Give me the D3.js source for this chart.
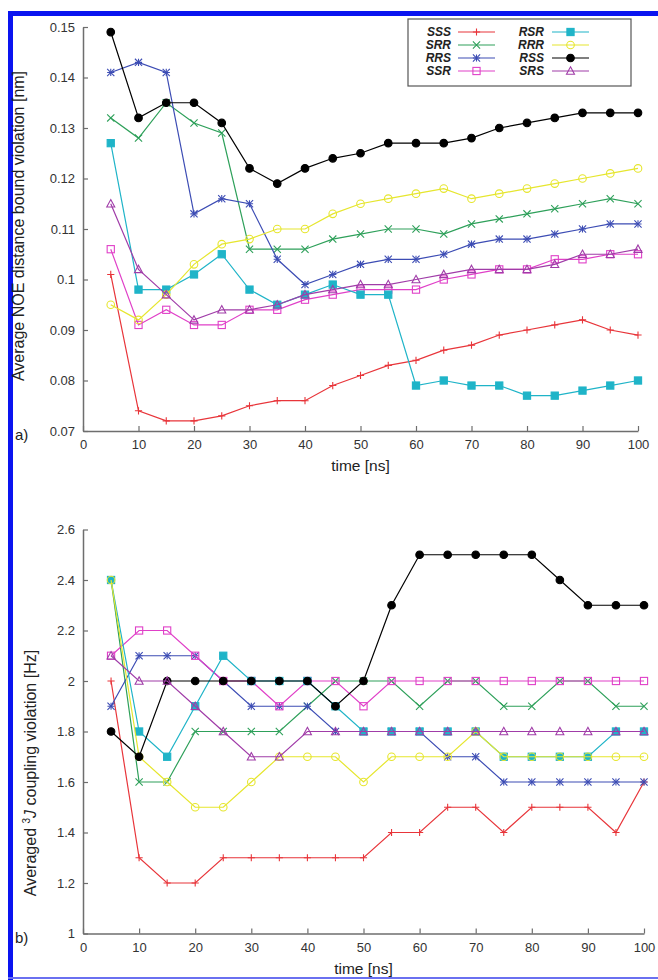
<!DOCTYPE html>
<html>
<head>
<meta charset="utf-8">
<script src="https://cdn.jsdelivr.net/npm/d3@7/dist/d3.min.js"></script>
<style>
  html, body { margin: 0; padding: 0; background: #fff; }
  svg { display: block; font-family: "Liberation Sans", Arial, sans-serif; }
</style>
</head>
<body>
<div id="chart"></div>
<script>
// time axis shared by both panels
const times = [5, 10, 15, 20, 25, 30, 35, 40, 45, 50, 55, 60, 65, 70, 75, 80, 85, 90, 95, 100];
const seriesNames = ["SSS", "SRR", "RRS", "SSR", "RSR", "RRR", "RSS", "SRS"];

// panel a) average NOE distance bound violation [nm]
const noeSSS = [0.101, 0.074, 0.072, 0.072, 0.073, 0.075, 0.076, 0.076, 0.079, 0.081, 0.083, 0.084, 0.086, 0.087, 0.089, 0.090, 0.091, 0.092, 0.090, 0.089];
const noeSRR = [0.132, 0.128, 0.135, 0.131, 0.129, 0.106, 0.106, 0.106, 0.108, 0.109, 0.110, 0.110, 0.109, 0.111, 0.112, 0.113, 0.114, 0.115, 0.116, 0.115];
const noeRRS = [0.141, 0.143, 0.141, 0.113, 0.116, 0.115, 0.104, 0.099, 0.101, 0.103, 0.104, 0.104, 0.105, 0.107, 0.108, 0.108, 0.109, 0.110, 0.111, 0.111];
const noeSSR = [0.106, 0.091, 0.094, 0.091, 0.091, 0.094, 0.094, 0.096, 0.097, 0.098, 0.098, 0.098, 0.100, 0.101, 0.102, 0.102, 0.104, 0.104, 0.105, 0.105];
const noeRSR = [0.127, 0.098, 0.098, 0.101, 0.105, 0.098, 0.095, 0.097, 0.099, 0.097, 0.097, 0.079, 0.080, 0.079, 0.079, 0.077, 0.077, 0.078, 0.079, 0.080];
const noeRRR = [0.095, 0.092, 0.097, 0.103, 0.107, 0.108, 0.110, 0.110, 0.113, 0.115, 0.116, 0.117, 0.118, 0.116, 0.117, 0.118, 0.119, 0.120, 0.121, 0.122];
const noeRSS = [0.149, 0.132, 0.135, 0.135, 0.131, 0.122, 0.119, 0.122, 0.124, 0.125, 0.127, 0.127, 0.127, 0.128, 0.130, 0.131, 0.132, 0.133, 0.133, 0.133];
const noeSRS = [0.115, 0.102, 0.097, 0.092, 0.094, 0.094, 0.095, 0.097, 0.098, 0.099, 0.099, 0.100, 0.101, 0.102, 0.102, 0.102, 0.103, 0.105, 0.105, 0.106];

// panel b) averaged 3J coupling violation [Hz]
const jSSS = [2.0, 1.3, 1.2, 1.2, 1.3, 1.3, 1.3, 1.3, 1.3, 1.3, 1.4, 1.4, 1.5, 1.5, 1.4, 1.5, 1.5, 1.5, 1.4, 1.6];
const jSRR = [2.4, 1.6, 1.6, 1.8, 1.8, 1.8, 1.8, 1.9, 2.0, 2.0, 2.0, 1.9, 2.0, 2.0, 1.9, 1.9, 2.0, 2.0, 1.9, 1.9];
const jRRS = [1.9, 2.1, 2.1, 2.1, 2.0, 1.9, 1.9, 1.9, 1.8, 1.8, 1.8, 1.8, 1.7, 1.7, 1.6, 1.6, 1.6, 1.6, 1.6, 1.6];
const jSSR = [2.1, 2.2, 2.2, 2.1, 2.0, 2.0, 1.9, 2.0, 2.0, 1.9, 2.0, 2.0, 2.0, 2.0, 2.0, 2.0, 2.0, 2.0, 2.0, 2.0];
const jRSR = [2.4, 1.8, 1.7, 1.9, 2.1, 2.0, 2.0, 2.0, 1.9, 1.8, 1.8, 1.8, 1.8, 1.8, 1.7, 1.7, 1.7, 1.7, 1.8, 1.8];
const jRRR = [2.4, 1.7, 1.6, 1.5, 1.5, 1.6, 1.7, 1.7, 1.7, 1.6, 1.7, 1.7, 1.7, 1.8, 1.7, 1.7, 1.7, 1.7, 1.7, 1.7];
const jRSS = [1.8, 1.7, 2.0, 2.0, 2.0, 2.0, 2.0, 2.0, 1.9, 2.0, 2.3, 2.5, 2.5, 2.5, 2.5, 2.5, 2.4, 2.3, 2.3, 2.3];
const jSRS = [2.1, 2.0, 2.0, 1.9, 1.8, 1.7, 1.7, 1.8, 1.8, 1.8, 1.8, 1.8, 1.8, 1.8, 1.8, 1.8, 1.8, 1.8, 1.8, 1.8];

const xTicks = [0, 10, 20, 30, 40, 50, 60, 70, 80, 90, 100];
const noeTicks = [0.07, 0.08, 0.09, 0.1, 0.11, 0.12, 0.13, 0.14, 0.15];
const noeTickLabels = ["0.07", "0.08", "0.09", "0.1", "0.11", "0.12", "0.13", "0.14", "0.15"];
const jTicks = [1, 1.2, 1.4, 1.6, 1.8, 2, 2.2, 2.4, 2.6];
const jTickLabels = ["1", "1.2", "1.4", "1.6", "1.8", "2", "2.2", "2.4", "2.6"];

// style per series: colour and gnuplot-like point type
const STYLE = {
    SSS: { color: "#e8353a", point: "plus" },
    SRR: { color: "#2ea05a", point: "cross" },
    RRS: { color: "#3c4cb4", point: "star" },
    SSR: { color: "#e040c8", point: "box" },
    RSR: { color: "#1fb4c8", point: "fbox" },
    RRR: { color: "#e6e62e", point: "circle" },
    RSS: { color: "#000000", point: "fcircle" },
    SRS: { color: "#a03ca8", point: "triangle" }
};

const W = 658, H = 980;
const svg = d3.select("#chart").append("svg")
    .attr("width", W).attr("height", H)
    .attr("viewBox", `0 0 ${W} ${H}`);

// blue frame of the source figure
svg.append("rect").attr("x", 8).attr("y", 11).attr("width", W - 8).attr("height", 5).attr("fill", "#0a14f0");
svg.append("rect").attr("x", 8).attr("y", 11).attr("width", 5).attr("height", H - 11).attr("fill", "#0a14f0");
svg.append("rect").attr("x", 8).attr("y", 977).attr("width", W - 8).attr("height", 2).attr("fill", "#6a70f0");

function drawPoint(g, type, color, x, y) {
    const s = 3.6;
    if (type === "plus" || type === "star") {
        g.append("path").attr("d", `M${x - s},${y}H${x + s}M${x},${y - s}V${y + s}`)
            .attr("stroke", color).attr("stroke-width", 1.1).attr("fill", "none");
    }
    if (type === "cross" || type === "star") {
        g.append("path").attr("d", `M${x - s},${y - s}L${x + s},${y + s}M${x - s},${y + s}L${x + s},${y - s}`)
            .attr("stroke", color).attr("stroke-width", 1.1).attr("fill", "none");
    }
    if (type === "box" || type === "fbox") {
        g.append("rect").attr("x", x - s).attr("y", y - s).attr("width", 2 * s).attr("height", 2 * s)
            .attr("stroke", color).attr("stroke-width", 1.1)
            .attr("fill", type === "fbox" ? color : "none");
    }
    if (type === "circle" || type === "fcircle") {
        g.append("circle").attr("cx", x).attr("cy", y).attr("r", 3.8)
            .attr("stroke", color).attr("stroke-width", 1.1)
            .attr("fill", type === "fcircle" ? color : "none");
    }
    if (type === "triangle") {
        g.append("path").attr("d", `M${x},${y - s - 0.6}L${x + s + 0.4},${y + s - 0.4}L${x - s - 0.4},${y + s - 0.4}Z`)
            .attr("stroke", color).attr("stroke-width", 1.1).attr("fill", "none");
    }
}

function drawPanel(opts) {
    const g = svg.append("g");
    const x = d3.scaleLinear().domain([0, 100]).range([opts.left, opts.right]);
    const y = d3.scaleLinear().domain(opts.yDomain).range([opts.bottom, opts.top]);

    // axes: only left and bottom, ticks pointing inward
    const xAxis = d3.axisBottom(x).tickValues(xTicks).tickSizeInner(-5).tickSizeOuter(0).tickPadding(9);
    const yAxis = d3.axisLeft(y).tickValues(opts.yTicks).tickSizeInner(-5).tickSizeOuter(0).tickPadding(8)
        .tickFormat((d, i) => opts.yTickLabels[i]);

    const gx = g.append("g").attr("transform", `translate(0,${opts.bottom})`).call(xAxis);
    const gy = g.append("g").attr("transform", `translate(${opts.left},0)`).call(yAxis);
    [gx, gy].forEach(a => {
        a.select(".domain").attr("stroke", "#6e6e6e").attr("stroke-width", 1.5);
        a.selectAll(".tick line").attr("stroke", "#6e6e6e").attr("stroke-width", 1.2);
        a.selectAll(".tick text").attr("fill", "#333").attr("font-size", "13px");
    });

    const line = d3.line().x(d => x(d[0])).y(d => y(d[1]));
    opts.series.forEach(s => {
        const st = STYLE[s.name];
        const pts = times.map((t, i) => [t, s.values[i]]);
        g.append("path").datum(pts).attr("d", line)
            .attr("fill", "none").attr("stroke", st.color).attr("stroke-width", 1.2);
        const pg = g.append("g");
        pts.forEach(p => drawPoint(pg, st.point, st.color, x(p[0]), y(p[1])));
    });

    // axis titles
    g.append("text")
        .attr("x", (opts.left + opts.right) / 2).attr("y", opts.bottom + 40)
        .attr("text-anchor", "middle").attr("font-size", "15.5px").attr("fill", "#222")
        .text("time [ns]");
    const yl = g.append("text")
        .attr("transform", `translate(${opts.yLabelX},${opts.yLabelY}) rotate(-90)`)
        .attr("text-anchor", "middle").attr("font-size", "16px").attr("fill", "#222");
    opts.yLabel(yl);

    g.append("text").attr("x", 15).attr("y", opts.bottom + 9)
        .attr("font-size", "15px").attr("fill", "#222").text(opts.tag);
    return g;
}

drawPanel({
    left: 83, right: 638, top: 27, bottom: 431,
    yDomain: [0.07, 0.15], yTicks: noeTicks, yTickLabels: noeTickLabels,
    yLabelX: 24, yLabelY: 226, tag: "a)",
    yLabel: t => t.text("Average NOE distance bound violation [nm]"),
    series: [
        { name: "SSS", values: noeSSS }, { name: "SRR", values: noeSRR },
        { name: "RRS", values: noeRRS }, { name: "SSR", values: noeSSR },
        { name: "RSR", values: noeRSR }, { name: "RRR", values: noeRRR },
        { name: "RSS", values: noeRSS }, { name: "SRS", values: noeSRS }
    ]
});

drawPanel({
    left: 83, right: 644, top: 529.5, bottom: 933.5,
    yDomain: [1, 2.6], yTicks: jTicks, yTickLabels: jTickLabels,
    yLabelX: 36, yLabelY: 773, tag: "b)",
    yLabel: t => {
        t.append("tspan").text("Averaged ");
        t.append("tspan").attr("font-size", "10px").attr("dy", -6).text("3");
        t.append("tspan").attr("dy", 6).attr("font-style", "italic").text("J");
        t.append("tspan").text(" coupling violation [Hz]");
    },
    series: [
        { name: "SSS", values: jSSS }, { name: "SRR", values: jSRR },
        { name: "RRS", values: jRRS }, { name: "SSR", values: jSSR },
        { name: "RSR", values: jRSR }, { name: "RRR", values: jRRR },
        { name: "RSS", values: jRSS }, { name: "SRS", values: jSRS }
    ]
});

// legend box in panel a)
const legend = svg.append("g");
legend.append("rect").attr("x", 408).attr("y", 19).attr("width", 223).attr("height", 67)
    .attr("fill", "#fff").attr("stroke", "#555").attr("stroke-width", 1.2);
seriesNames.forEach((name, i) => {
    const col = Math.floor(i / 4), row = i % 4;
    const ty = 32 + row * 13;
    const tx = col === 0 ? 451 : 544;
    const lx = col === 0 ? 458 : 552;
    const st = STYLE[name];
    legend.append("text").attr("x", tx).attr("y", ty + 4.3)
        .attr("text-anchor", "end").attr("font-size", "12px")
        .attr("font-weight", "bold").attr("font-style", "italic").attr("fill", "#222")
        .text(name);
    legend.append("line").attr("x1", lx).attr("x2", lx + 37).attr("y1", ty).attr("y2", ty)
        .attr("stroke", st.color).attr("stroke-width", 1.2);
    drawPoint(legend, st.point, st.color, lx + 18.5, ty);
});
</script>
</body>
</html>
